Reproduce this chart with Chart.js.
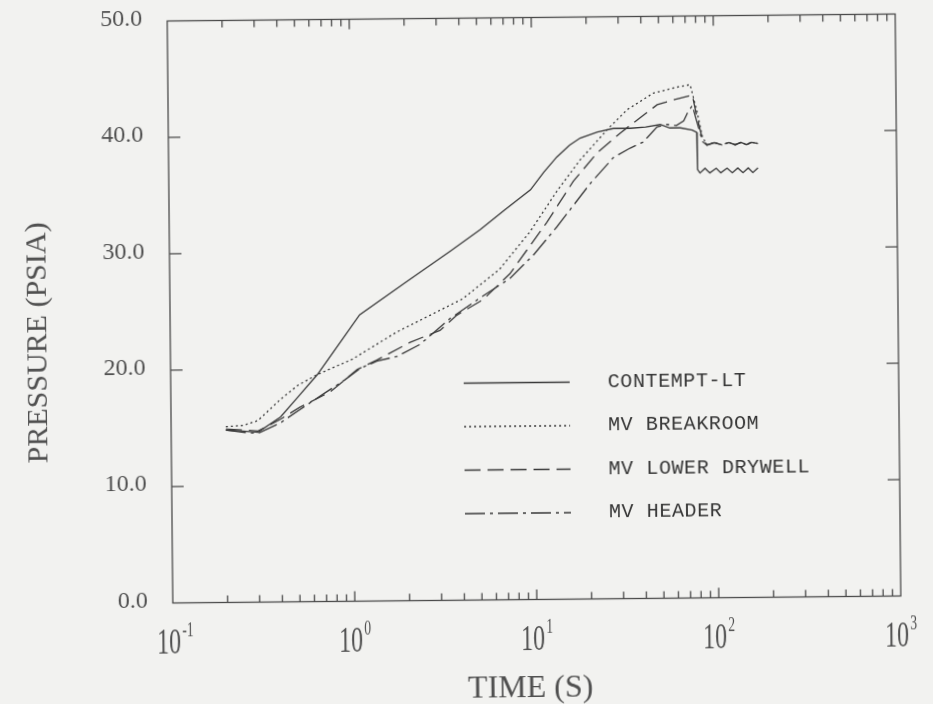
<!DOCTYPE html>
<html>
<head>
<meta charset="utf-8">
<title>Pressure vs time</title>
<script src="https://cdn.jsdelivr.net/npm/chart.js@4.4.0/dist/chart.umd.min.js"></script>
<style>
  html, body { margin: 0; padding: 0; background: #f2f2f0; }
  #wrap { width: 933px; height: 704px; overflow: hidden; }
  /* the plotted sheet sits a little crooked */
  canvas { display: block; transform-origin: 534px 308.5px; transform: rotate(-0.55deg); }
</style>
</head>
<body>
<div id="wrap"><canvas id="chart" width="933" height="704"></canvas></div>
<script>
// time in seconds, pressure in psia
const contemptTime = [0.2, 0.25, 0.3, 0.4, 0.5, 0.64, 0.8, 1.1, 2.0, 3.5, 5.1, 7.0, 9.7, 11.5, 13.6, 16, 18.3, 22.8, 27.9, 34.5, 42, 50.5, 57, 65, 75.7, 80, 80.5, 83, 88.5, 94, 102, 108, 117, 125, 134, 143, 153, 162, 173];
const contemptPressure = [14.8, 14.7, 14.6, 15.9, 17.6, 19.5, 21.6, 24.6, 27.4, 30.0, 31.8, 33.5, 35.2, 36.7, 38.0, 39.0, 39.6, 40.1, 40.4, 40.4, 40.5, 40.7, 40.4, 40.4, 40.2, 40.0, 36.8, 36.5, 36.9, 36.5, 36.9, 36.5, 36.9, 36.5, 36.9, 36.5, 36.9, 36.5, 36.9];

const breakroomTime = [0.2, 0.25, 0.3, 0.4, 0.5, 0.64, 1.0, 1.76, 2.68, 4.07, 6.5, 9.6, 13.6, 18.2, 25.8, 33.3, 46.4, 62.9, 74, 80, 86, 91, 100, 110, 120, 130, 140, 150, 160, 173];
const breakroomPressure = [15.1, 15.2, 15.6, 17.4, 18.6, 19.5, 20.8, 23.1, 24.5, 25.9, 28.4, 31.6, 35.1, 37.7, 40.3, 42.0, 43.4, 43.9, 44.1, 42.0, 39.6, 38.9, 39.1, 38.9, 39.1, 38.9, 39.1, 38.9, 39.1, 39.0];

const drywellTime = [0.2, 0.25, 0.3, 0.4, 0.51, 0.75, 1.06, 1.36, 2.08, 3.04, 3.77, 5.25, 7.4, 11.9, 16.7, 22.6, 30.4, 39.2, 48.7, 59.7, 76, 80, 86, 91, 100, 110, 120, 130, 140, 150, 160, 173];
const drywellPressure = [14.9, 14.8, 14.7, 15.7, 16.7, 18.0, 19.9, 20.7, 22.2, 23.2, 24.5, 25.8, 28.0, 32.4, 35.9, 38.3, 40.0, 41.3, 42.4, 42.8, 43.2, 41.5, 39.4, 38.9, 39.1, 38.9, 39.1, 38.9, 39.1, 38.9, 39.1, 39.0];

const headerTime = [0.2, 0.25, 0.3, 0.4, 0.51, 0.7, 0.9, 1.1, 1.36, 1.76, 2.35, 3.45, 5.0, 7.4, 10, 13.5, 20.7, 27.8, 34.4, 40.6, 48.5, 55, 62, 68, 72, 76, 80, 86, 91, 100, 110, 120, 130, 140, 150, 160, 173];
const headerPressure = [14.8, 14.6, 14.5, 15.4, 16.5, 17.9, 19.0, 20.0, 20.6, 21.0, 22.0, 24.2, 25.9, 27.6, 29.6, 32.0, 35.7, 37.9, 38.7, 39.2, 40.5, 40.7, 40.6, 41.0, 41.8, 42.3, 41.0, 39.2, 38.9, 39.1, 38.9, 39.1, 38.9, 39.1, 38.9, 39.1, 39.0];

const seriesNames = ['CONTEMPT-LT', 'MV BREAKROOM', 'MV LOWER DRYWELL', 'MV HEADER'];

// axis ticks
const yTickValues = [0, 10, 20, 30, 40, 50];
const yTickLabels = ['0.0', '10.0', '20.0', '30.0', '40.0', '50.0'];
const xDecades = [0.1, 1, 10, 100, 1000];
const xDecadeExponents = ['-1', '0', '1', '2', '3'];

const ink = '#3a3a3a';

function toPoints(times, values) {
  return times.map((t, i) => ({ x: t, y: values[i] }));
}

// box, inward tick marks and axis labels
const framePlugin = {
  id: 'frame',
  afterDraw(chart) {
    const { ctx, chartArea: a, scales: { x, y } } = chart;
    ctx.save();
    ctx.strokeStyle = '#4a4a4a';
    ctx.lineWidth = 1.3;
    ctx.strokeRect(a.left, a.top, a.right - a.left, a.bottom - a.top);

    ctx.beginPath();
    yTickValues.forEach(v => {
      if (v === 0 || v === 50) return;
      const py = y.getPixelForValue(v);
      ctx.moveTo(a.left, py); ctx.lineTo(a.left + 12, py);
      ctx.moveTo(a.right, py); ctx.lineTo(a.right - 12, py);
    });
    xDecades.forEach((d, i) => {
      if (i > 0 && i < xDecades.length - 1) {
        const px = x.getPixelForValue(d);
        ctx.moveTo(px, a.bottom); ctx.lineTo(px, a.bottom - 10);
        ctx.moveTo(px, a.top); ctx.lineTo(px, a.top + 10);
      }
      if (i === xDecades.length - 1) return;
      for (let m = 2; m <= 9; m++) {
        const px = x.getPixelForValue(d * m);
        ctx.moveTo(px, a.bottom); ctx.lineTo(px, a.bottom - 7);
        ctx.moveTo(px, a.top); ctx.lineTo(px, a.top + 7);
      }
    });
    ctx.stroke();

    ctx.fillStyle = '#505050';
    ctx.font = '24px "Liberation Serif"';
    ctx.textAlign = 'right';
    ctx.textBaseline = 'middle';
    yTickValues.forEach((v, i) => {
      ctx.fillText(yTickLabels[i], a.left - 25, y.getPixelForValue(v) - 2);
    });

    // decade labels, narrow "10" with a raised exponent
    xDecades.forEach((d, i) => {
      const px = x.getPixelForValue(d) - 4;
      const py = a.bottom + 41;
      ctx.save();
      ctx.translate(px, py);
      ctx.scale(0.68, 1);
      ctx.font = '35px "Liberation Serif"';
      ctx.textAlign = 'center';
      ctx.fillText('10', 0, 0);
      const half = ctx.measureText('10').width / 2;
      ctx.font = '20px "Liberation Serif"';
      ctx.textAlign = 'left';
      ctx.fillText(xDecadeExponents[i], half + 2, -13);
      ctx.restore();
    });

    ctx.textAlign = 'center';
    ctx.font = '32px "Liberation Serif"';
    ctx.fillText('TIME (S)', 527, a.bottom + 89);

    ctx.save();
    ctx.translate(38, 338);
    ctx.rotate(-Math.PI / 2);
    ctx.font = '30px "Liberation Serif"';
    ctx.fillText('PRESSURE (PSIA)', 0, 0);
    ctx.restore();
    ctx.restore();
  }
};

// line key inside the plot
const keyPlugin = {
  id: 'key',
  afterDatasetsDraw(chart) {
    const { ctx, chartArea: a } = chart;
    ctx.save();
    chart.data.datasets.forEach((ds, i) => {
      const ry = a.top + 365 + i * 43.5;
      ctx.strokeStyle = ds.borderColor;
      ctx.lineWidth = ds.borderWidth;
      ctx.setLineDash(ds.borderDash || []);
      ctx.beginPath();
      ctx.moveTo(463, ry);
      ctx.lineTo(569, ry);
      ctx.stroke();
      ctx.setLineDash([]);
      ctx.fillStyle = '#353535';
      ctx.font = '20px "Liberation Mono"';
      ctx.letterSpacing = '0.6px';
      ctx.textAlign = 'left';
      ctx.textBaseline = 'middle';
      ctx.fillText(ds.label, 607, ry);
    });
    ctx.restore();
  }
};

const lineStyle = { borderColor: ink, borderWidth: 1.3, pointRadius: 0, tension: 0, fill: false };

new Chart(document.getElementById('chart'), {
  type: 'line',
  data: {
    datasets: [
      { ...lineStyle, label: seriesNames[0], data: toPoints(contemptTime, contemptPressure) },
      { ...lineStyle, label: seriesNames[1], data: toPoints(breakroomTime, breakroomPressure), borderDash: [2, 3] },
      { ...lineStyle, label: seriesNames[2], data: toPoints(drywellTime, drywellPressure), borderDash: [16, 7] },
      { ...lineStyle, label: seriesNames[3], data: toPoints(headerTime, headerPressure), borderDash: [20, 5, 3, 5] }
    ]
  },
  options: {
    responsive: false,
    animation: false,
    layout: { padding: { left: 170, right: 35, top: 17.5, bottom: 104.5 } },
    plugins: { legend: { display: false }, tooltip: { enabled: false } },
    scales: {
      x: { type: 'logarithmic', min: 0.1, max: 1000, display: false },
      y: { type: 'linear', min: 0, max: 50, display: false }
    }
  },
  plugins: [framePlugin, keyPlugin]
});
</script>
</body>
</html>
